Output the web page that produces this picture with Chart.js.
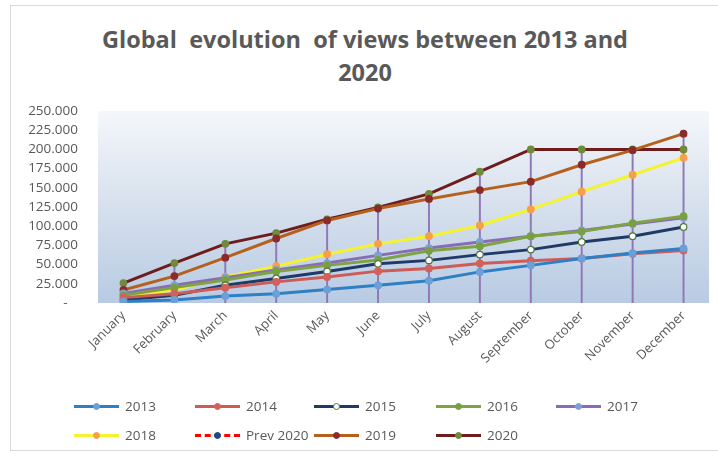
<!DOCTYPE html>
<html>
<head>
<meta charset="utf-8">
<script src="https://cdn.jsdelivr.net/npm/chart.js@4"></script>
<style>
  html,body{margin:0;padding:0;background:#fff;}
  #wrap{position:relative;width:718px;height:457px;overflow:hidden;font-family:"Open Sans",sans-serif;}
  #frame{position:absolute;left:10px;top:5px;width:720px;height:446px;border:1px solid #d9d9d9;box-sizing:border-box;}
  #title{position:absolute;left:0;top:23px;width:730px;text-align:center;font-weight:bold;font-size:23.5px;line-height:33px;color:#595959;white-space:pre;}
  canvas{position:absolute;left:0;top:0;}
  .lg{position:absolute;height:16px;display:flex;align-items:center;font-size:13.5px;color:#595959;white-space:nowrap;}
  .sw{position:relative;width:45px;height:16px;margin-right:6px;}
  .sw .ln{position:absolute;left:0;right:0;top:6.5px;height:0;border-top:3px solid;}
  .sw .dt{position:absolute;left:19px;top:5px;width:7px;height:7px;border-radius:50%;box-sizing:border-box;}
</style>
</head>
<body>
<div id="wrap">
  <div id="frame"></div>
  <div id="title">Global  evolution  of views between 2013 and
2020</div>
  <canvas id="c" width="718" height="457"></canvas>
  <div id="legend"></div>
</div>
<script>
const months = ["January","February","March","April","May","June","July","August","September","October","November","December"];
const yTicks = [0,25000,50000,75000,100000,125000,150000,175000,200000,225000,250000];
const seriesNames = ["2013","2014","2015","2016","2017","2018","Prev 2020","2019","2020"];
const v2013 = [2000, 4000, 9000, 12000, 17500, 23000, 29000, 40500, 49000, 58000, 65000, 71000];
const v2014 = [7000, 12000, 20000, 27500, 34000, 41500, 45000, 51500, 55000, 58000, 64000, 68500];
const v2015 = [4000, 10000, 23000, 32000, 41000, 51000, 55500, 63000, 69500, 79500, 87000, 99000];
const v2016 = [10000, 20000, 30000, 41000, 49000, 56000, 68000, 74000, 87000, 93000, 104000, 113000];
const v2017 = [12500, 23000, 33000, 43000, 52000, 62000, 71500, 79500, 87000, 94500, 103000, 111000];
const v2018 = [9000, 17000, 34000, 48000, 63500, 77000, 87000, 101000, 122000, 145000, 167000, 189000];
const vPrev2020 = [null, null, null, null, null, null, null, null, null, null, null, null];
const v2019 = [17000, 35000, 59000, 84000, 107500, 123000, 135500, 147000, 158000, 180000, 199000, 220500];
const v2020 = [26000, 52000, 77000, 91000, 109000, 124500, 142000, 171000, 200000, 200000, 200000, 200000];

const styles = {
  "2013":      {line:"#2f7fc4", marker:"#6a9fd8", border:"#6a9fd8"},
  "2014":      {line:"#cf5b57", marker:"#d4605c", border:"#d4605c"},
  "2015":      {line:"#1f3a66", marker:"#ffffff", border:"#4e7a3a"},
  "2016":      {line:"#7ea343", marker:"#78a040", border:"#78a040"},
  "2017":      {line:"#8a6bb5", marker:"#7f9fd6", border:"#7f9fd6"},
  "2018":      {line:"#f5f22e", marker:"#f7a04a", border:"#f7a04a"},
  "Prev 2020": {line:"#ff0000", marker:"#1f497d", border:"#1f497d", dash:[6,4]},
  "2019":      {line:"#b5601c", marker:"#8b2a2a", border:"#8b2a2a"},
  "2020":      {line:"#6e1c1c", marker:"#6f8a3a", border:"#6f8a3a"}
};
const seriesData = [v2013, v2014, v2015, v2016, v2017, v2018, vPrev2020, v2019, v2020];

const dropMax = months.map((m,i)=>Math.max(...seriesData.map(s=>s[i]==null?0:s[i])));

const datasets = seriesNames.map((n,k)=>({
  type:"line",
  label:n,
  data:seriesData[k],
  borderColor:styles[n].line,
  borderWidth:3,
  borderDash:styles[n].dash||[],
  backgroundColor:styles[n].marker,
  pointBackgroundColor:styles[n].marker,
  pointBorderColor:styles[n].border,
  pointBorderWidth:1.2,
  pointRadius:3.3,
  tension:0,
  order:k+1
}));
datasets.push({
  type:"bar",
  label:"drop",
  data:dropMax,
  backgroundColor:"#8f78b6",
  barThickness:1.3,
  order:100
});

const bgPlugin = {
  id:"bgPlugin",
  beforeDatasetsDraw(chart){
    const {ctx, chartArea:a} = chart;
    const g = ctx.createLinearGradient(0,a.top,0,a.bottom);
    g.addColorStop(0,"#f5f7fa");
    g.addColorStop(0.45,"#d9e2ee");
    g.addColorStop(1,"#b8cbe3");
    ctx.save();
    ctx.fillStyle = g;
    ctx.fillRect(a.left,a.top,a.right-a.left,a.bottom-a.top);
    ctx.restore();
  }
};

function fmt(v){
  if(v===0) return "-   ";
  return String(v).replace(/\B(?=(\d{3})+(?!\d))/g,".");
}

new Chart(document.getElementById("c"),{
  data:{labels:months,datasets:datasets},
  options:{
    responsive:false,
    animation:false,
    devicePixelRatio:1,
    layout:{padding:{top:111,right:9,bottom:0,left:0}},
    plugins:{legend:{display:false},tooltip:{enabled:false},title:{display:false}},
    scales:{
      x:{
        offset:true,
        grid:{display:false,drawTicks:false},
        border:{display:false},
        ticks:{color:"#595959",font:{family:"Open Sans",size:13},minRotation:45,maxRotation:45,padding:5},
        afterFit(s){s.height=154;}
      },
      y:{
        min:0,max:250000,
        afterBuildTicks(s){s.ticks = yTicks.map(v=>({value:v}));},
        grid:{display:false,drawTicks:false},
        border:{display:false},
        ticks:{color:"#595959",font:{family:"Open Sans",size:13.5},padding:20,callback:(v)=>fmt(v)},
        afterFit(s){s.width=98;}
      }
    }
  },
  plugins:[bgPlugin]
});

// legend
const legendPos = {
  "2013":[74,398],"2014":[195,398],"2015":[314,398],"2016":[436,398],"2017":[556,398],
  "2018":[74,427],"Prev 2020":[195,427],"2019":[314,427],"2020":[436,427]
};
const lg = document.getElementById("legend");
seriesNames.forEach(n=>{
  const st = styles[n];
  const d = document.createElement("div");
  d.className="lg";
  d.style.left=legendPos[n][0]+"px";
  d.style.top=legendPos[n][1]+"px";
  const sw = document.createElement("div"); sw.className="sw";
  const ln = document.createElement("div"); ln.className="ln";
  ln.style.borderTopColor=st.line;
  if(st.dash) ln.style.borderTopStyle="dashed";
  const dt = document.createElement("div"); dt.className="dt";
  dt.style.background=st.marker; dt.style.border="1.2px solid "+st.border;
  sw.appendChild(ln); sw.appendChild(dt);
  const t = document.createElement("span"); t.textContent=n;
  d.appendChild(sw); d.appendChild(t);
  lg.appendChild(d);
});
</script>
</body>
</html>
